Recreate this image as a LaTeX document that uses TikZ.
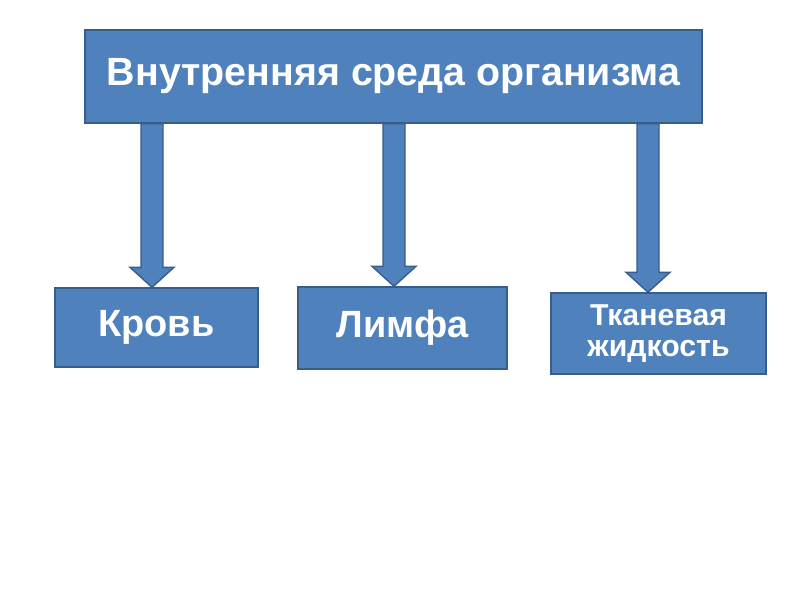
\documentclass[tikz,border=0pt]{standalone}
\usepackage{fontspec}
\setmainfont{Liberation Sans}
\usetikzlibrary{positioning,calc}

\definecolor{boxfill}{HTML}{4F81BD}
\definecolor{boxline}{HTML}{385D8A}

% block arrow from #1 down to #2
\newcommand{\blockarrow}[2]{%
  \draw[barrow] let \p1=(#1), \p2=(#2) in
    (\x1-0.275cm,\y1) -- (\x1-0.275cm,\y2+0.5cm) -- (\x1-0.55cm,\y2+0.5cm)
    -- (\x2,\y2) -- (\x1+0.55cm,\y2+0.5cm) -- (\x1+0.275cm,\y2+0.5cm)
    -- (\x1+0.275cm,\y1) -- cycle;}

\begin{document}
\begin{tikzpicture}[
  every node/.style={font=\bfseries},
  block/.style={draw=boxline, fill=boxfill, line width=1pt, text=white, align=center, inner sep=0pt},
  barrow/.style={draw=boxline, fill=boxfill, line width=1pt, line join=miter}
]
\useasboundingbox (0,0) rectangle (20,-15);
% Top block
\node[block, minimum width=15.425cm, minimum height=2.325cm, font=\bfseries\fontsize{28}{32}\selectfont] (env) at (9.8375,-1.9125) {Внутренняя среда организма};
% Lower blocks
\node[block, minimum width=5.075cm, minimum height=1.975cm, font=\bfseries\fontsize{27}{30}\selectfont] (blood) at (3.9125,-8.1875) {Кровь};
\node[block, minimum width=5.225cm, minimum height=2.05cm, font=\bfseries\fontsize{27}{30}\selectfont] (lymph) at (10.0625,-8.2) {Лимфа};
\node[block, minimum width=5.375cm, minimum height=2.025cm, font=\bfseries\fontsize{21.5}{22}\selectfont] (tissue) at (16.4625,-8.3375) {Тканевая\\жидкость};
% Arrow positions
\coordinate (ab) at (3.8,0);
\coordinate (al) at (9.85,0);
\coordinate (at) at (16.2,0);
\blockarrow{env.south -| ab}{blood.north -| ab}
\blockarrow{env.south -| al}{lymph.north -| al}
\blockarrow{env.south -| at}{tissue.north -| at}
\end{tikzpicture}
\end{document}
